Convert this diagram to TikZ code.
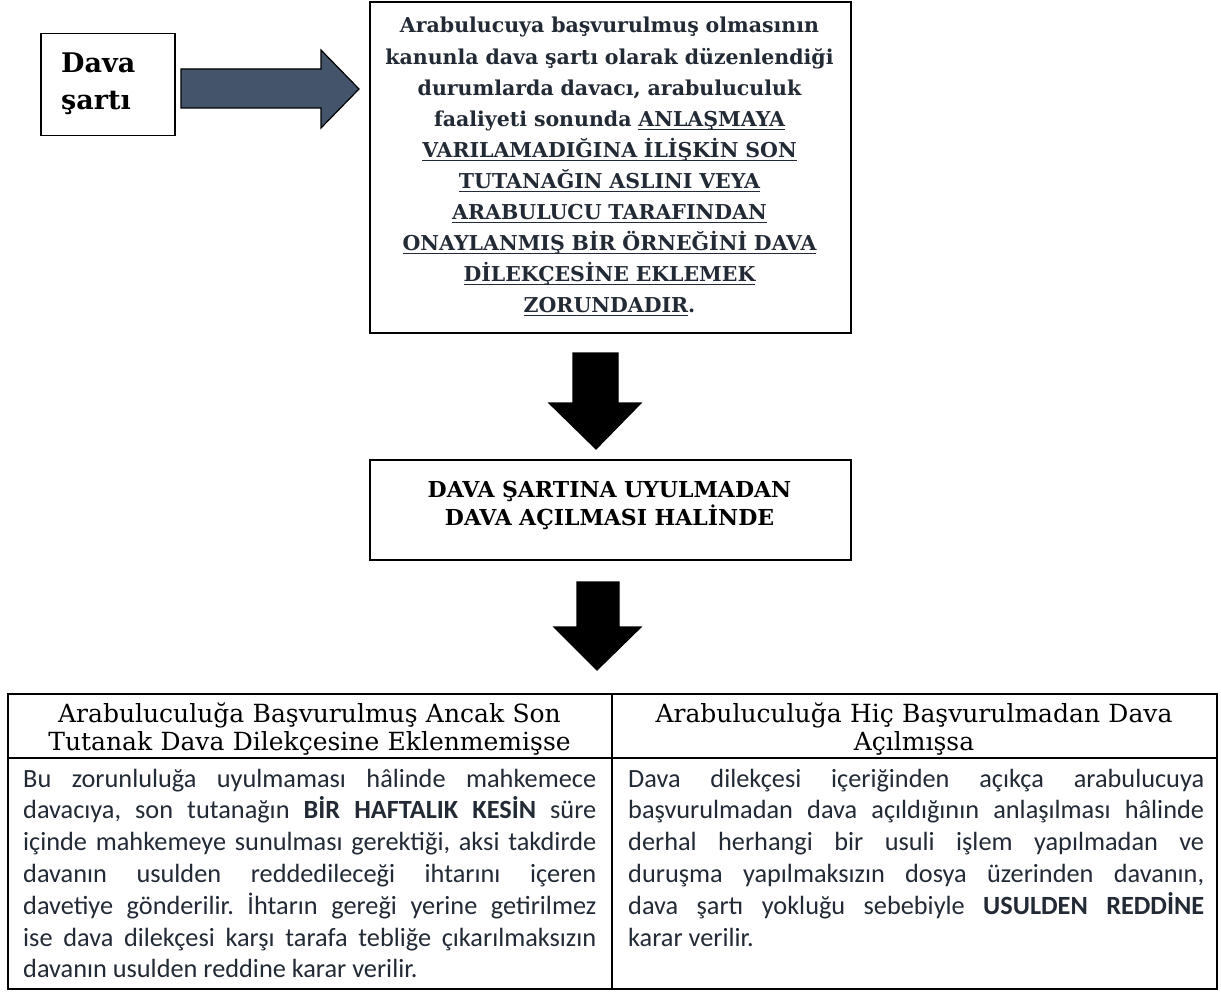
\documentclass[tikz,border=0pt]{standalone}
\usepackage{fontspec}
\setmainfont{DejaVu Serif}
\newfontfamily\bodyfont{Carlito}
\definecolor{navy}{HTML}{222A35}
\definecolor{slate}{HTML}{44546A}
\newcommand\jline[2]{\hbox to #1{\spaceskip=0pt\xspaceskip=0pt\relax #2}}
\newcommand\lline[1]{\hbox{\spaceskip=0pt\xspaceskip=0pt\relax #1}}
\newcommand\uln[1]{\leavevmode\setbox0\hbox{#1}\rlap{\rule[-3.5pt]{\wd0}{1.2pt}}\box0}
\frenchspacing
\begin{document}
\begin{tikzpicture}[x=1pt,y=-1pt,
  box/.style={draw=black,line width=1.5pt,anchor=north west,inner sep=0pt},
  serifT/.style={inner sep=0pt,anchor=base,align=center,text width=#1},
  bodyT/.style={inner sep=0pt,anchor=base west,text width=#1,align=justify,font=\bodyfont\fontsize{26.3}{31.8}\selectfont,text=navy},
  blockarrow/.style={draw=black,line width=1.2pt,line join=miter}]
\useasboundingbox[fill=white] (0,0) rectangle (1221,992);
% Dava sarti box
\node[box,minimum width=134pt,minimum height=102pt] (dava) at (40,33) {};
\node[inner sep=0pt,anchor=base west,align=left,text width=110pt,font=\bfseries\fontsize{27}{37}\selectfont] (davaT) at (61,73) {Dava\\şartı};
% right arrow
\draw[blockarrow,fill=slate] (181,69) -- (321,69) -- (321,50) -- (359,89) -- (321,128) -- (321,108) -- (181,108) -- cycle;
% main box
\node[box,line width=2pt,minimum width=481pt,minimum height=331pt] (main) at (369,1) {};
\node[serifT=470pt,text=navy,font=\bfseries\fontsize{20.5}{31.1}\selectfont] (mainT) at (609.5,33) {Arabulucuya başvurulmuş olmasının\\
kanunla dava şartı olarak düzenlendiği\\
durumlarda davacı, arabuluculuk\\
faaliyeti sonunda \uln{ANLAŞMAYA}\\
\uln{VARILAMADIĞINA İLİŞKİN SON}\\
\uln{TUTANAĞIN ASLINI VEYA}\\
\uln{ARABULUCU TARAFINDAN}\\
\uln{ONAYLANMIŞ BİR ÖRNEĞİNİ DAVA}\\
\uln{DİLEKÇESİNE EKLEMEK}\\
\uln{ZORUNDADIR}.};
% down arrow 1
\draw[blockarrow,fill=black] (573,353) -- (618,353) -- (618,403) -- (641,403) -- (596,449) -- (549,403) -- (573,403) -- cycle;
% box 2
\node[box,minimum width=481pt,minimum height=100pt] (cond) at (369,459) {};
\node[serifT=470pt,font=\bfseries\fontsize{22}{28}\selectfont] (condT) at (609.5,497) {DAVA ŞARTINA UYULMADAN\\DAVA AÇILMASI HALİNDE};
% down arrow 2
\draw[blockarrow,fill=black] (577,582) -- (619,582) -- (619,627) -- (641,627) -- (597,670) -- (554,627) -- (577,627) -- cycle;
% table
\node[box,minimum width=1209pt,minimum height=295pt] (tab) at (7,693) {};
\coordinate (sepL) at (7,758);
\coordinate (sepR) at (1216,758);
\coordinate (midT) at (612,693);
\coordinate (midB) at (612,988);
\draw[line width=1.5pt] (sepL) -- (sepR);
\draw[line width=1.5pt] (midT) -- (midB);
\node[serifT=595pt,font=\fontsize{25}{28}\selectfont] (hL) at (309.5,722) {Arabuluculuğa Başvurulmuş Ancak Son\\Tutanak Dava Dilekçesine Eklenmemişse};
\node[serifT=595pt,font=\fontsize{25}{28}\selectfont] (hR) at (914,722) {Arabuluculuğa Hiç Başvurulmadan Dava\\Açılmışsa};
\node[bodyT=573pt] (bL) at (23,787) {%
\jline{573pt}{Bu zorunluluğa uyulmaması hâlinde mahkemece}
\jline{573pt}{davacıya, son tutanağın \textbf{BİR HAFTALIK KESİN} süre}
\jline{573pt}{içinde mahkemeye sunulması gerektiği, aksi takdirde}
\jline{573pt}{davanın usulden reddedileceği ihtarını içeren}
\jline{573pt}{davetiye gönderilir. İhtarın gereği yerine getirilmez}
\jline{573pt}{ise dava dilekçesi karşı tarafa tebliğe çıkarılmaksızın}
\lline{davanın usulden reddine karar verilir.}};
\node[bodyT=576pt] (bR) at (628,787) {%
\jline{576pt}{Dava dilekçesi içeriğinden açıkça arabulucuya}
\jline{576pt}{başvurulmadan dava açıldığının anlaşılması hâlinde}
\jline{576pt}{derhal herhangi bir usuli işlem yapılmadan ve}
\jline{576pt}{duruşma yapılmaksızın dosya üzerinden davanın,}
\jline{576pt}{dava şartı yokluğu sebebiyle \textbf{USULDEN REDDİNE}}
\lline{karar verilir.}};
\end{tikzpicture}
\end{document}
